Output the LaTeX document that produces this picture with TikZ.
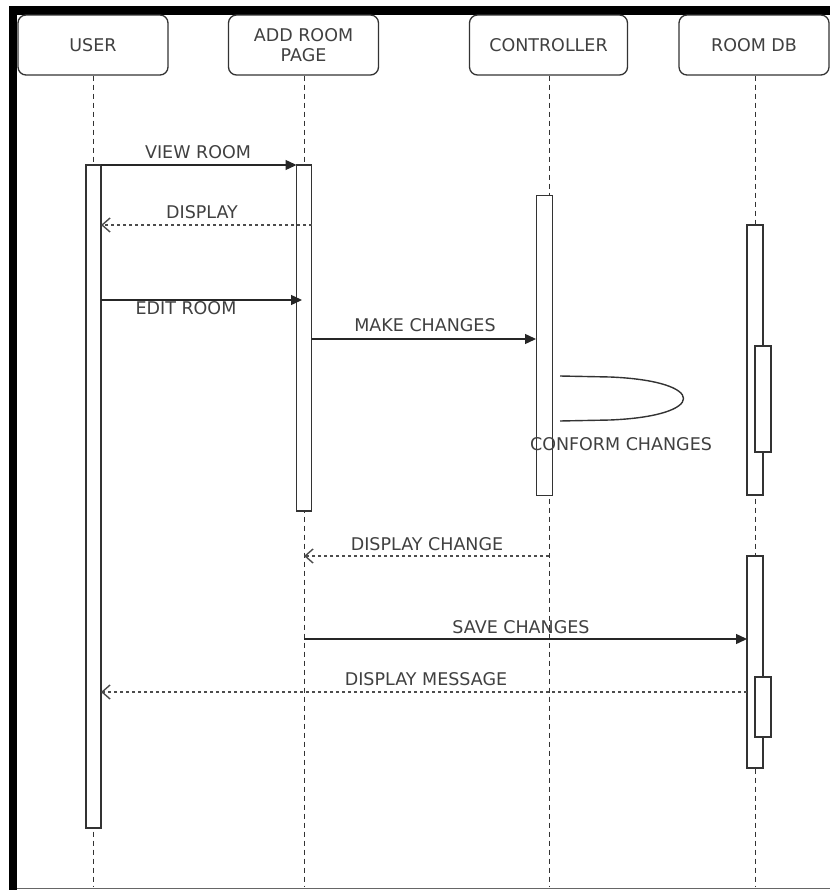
\documentclass[tikz,border=0pt]{standalone}
\usepackage{fontspec}
\setmainfont{DejaVu Sans}
\usetikzlibrary{arrows.meta,positioning}

\begin{document}
\begin{tikzpicture}[
    x=1pt, y=-1pt,
    font=\fontsize{17.5}{21}\selectfont,
    head/.style={draw=black!80, line width=1.3pt, rounded corners=8pt,
                 minimum width=150pt, minimum height=60pt, align=center,
                 text=black!75, inner sep=0pt},
    bar/.style={draw=black!80, fill=white, line width=1.3pt,
                minimum width=15pt, inner sep=0pt, outer sep=0pt},
    life/.style={black!80, line width=1pt, dash pattern=on 5pt off 4pt},
    call/.style={-{Triangle[length=11pt,width=10pt]}, black!85, line width=1.4pt},
    reply/.style={-{Straight Barb[length=8pt,width=14pt]}, black!70,
                  line width=1.4pt, dash pattern=on 3pt off 3pt},
    lbl/.style={text=black!75, inner sep=1pt},
  ]
  \useasboundingbox (0,0) rectangle (830,890);
  % frame
  \fill[black] (9,6) rectangle (830,15);
  \fill[black] (9,6) rectangle (17,890);
  \draw[black!60, line width=1.5pt] (17,888.5) -- (830,888.5);

  % participants
  \node[head] (user) at (93,45) {USER};
  \node[head] (page) at (303.5,45) {ADD ROOM\\[-1pt]PAGE};
  \node[head, minimum width=158pt] (ctrl) at (548.5,45) {CONTROLLER};
  \node[head] (db) at (754,45) {ROOM DB};

  % lifelines
  \coordinate (user-end) at (93,886);
  \coordinate (page-end) at (304,886);
  \coordinate (ctrl-end) at (549,886);
  \coordinate (db-end) at (755,886);
  \draw[life] (user.south -| user-end) -- (user-end);
  \draw[life] (page.south -| page-end) -- (page-end);
  \draw[life] (ctrl.south -| ctrl-end) -- (ctrl-end);
  \draw[life] (db.south -| db-end) -- (db-end);

  % activations
  \node[bar, minimum height=663pt] (ubar) at (93.5,496.5) {};
  \node[bar, minimum height=346pt] (pbar) at (304,338) {};
  \node[bar, minimum height=300pt, minimum width=16pt] (cbar) at (544.5,345.5) {};
  \node[bar, minimum height=270pt, minimum width=16pt] (dbar1) at (755,360) {};
  \node[bar, minimum height=106pt, minimum width=16pt] (dsub1) at (763,399) {};
  \node[bar, minimum height=212pt, minimum width=16pt] (dbar2) at (755,662) {};
  \node[bar, minimum height=60pt, minimum width=16pt] (dsub2) at (763,707) {};

  % message ends
  \coordinate (disp-s) at (312,225);
  \coordinate (disp-e) at (101,225);
  \coordinate (edit-s) at (101,300);
  \coordinate (edit-e) at (302,300);
  \coordinate (make-s) at (312,339);
  \coordinate (make-e) at (536,339);
  \coordinate (loop-s) at (560,376);
  \coordinate (loop-e) at (560,421);
  \coordinate (chg-s) at (549,556);
  \coordinate (chg-e) at (304,556);
  \coordinate (save-s) at (304,639);
  \coordinate (save-e) at (747,639);
  \coordinate (msg-s) at (747,692);
  \coordinate (msg-e) at (101,692);

  % messages
  \draw[call] (ubar.north east) -- (pbar.north west);
  \draw[reply] (disp-s) -- (disp-e);
  \draw[call] (edit-s) -- (edit-e);
  \draw[call] (make-s) -- (make-e);
  \draw[black!80, line width=1.4pt] (loop-s) -- (610,377)
    .. controls (708,381) and (708,416) .. (610,420) -- (loop-e);
  \draw[reply] (chg-s) -- (chg-e);
  \draw[call] (save-s) -- (save-e);
  \draw[reply] (msg-s) -- (msg-e);

  % labels
  \node[lbl] (l-view) at (198,152) {VIEW ROOM};
  \node[lbl] (l-disp) at (202,212) {DISPLAY};
  \node[lbl, fill=white, inner sep=0pt] (l-edit) at (186,308) {EDIT ROOM};
  \node[lbl] (l-make) at (425,325) {MAKE CHANGES};
  \node[lbl] (l-conf) at (621,444) {CONFORM CHANGES};
  \node[lbl] (l-chg) at (427,544) {DISPLAY CHANGE};
  \node[lbl] (l-save) at (521,627) {SAVE CHANGES};
  \node[lbl] (l-msg) at (426,679) {DISPLAY MESSAGE};
\end{tikzpicture}
\end{document}
